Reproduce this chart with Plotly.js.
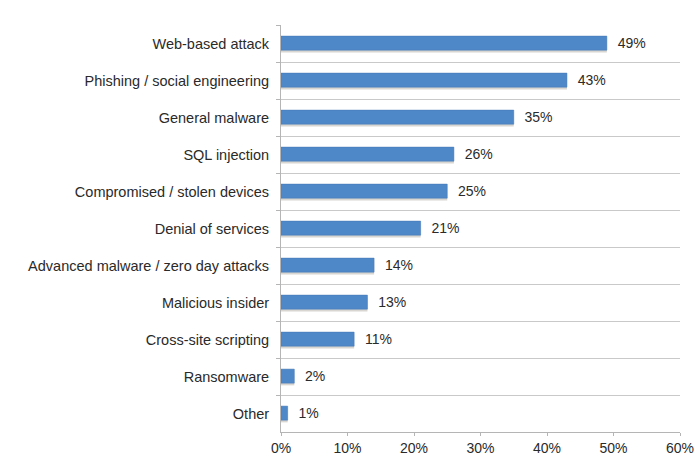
<!DOCTYPE html>
<html>
<head>
<meta charset="utf-8">
<script src="https://cdn.plot.ly/plotly-3.0.1.min.js"></script>
<style>html,body{margin:0;padding:0;background:#fff;}#chart{width:695px;height:468px;}</style>
</head>
<body>
<div id="chart"></div>
<script>
const categories = [
  "Web-based attack",
  "Phishing / social engineering",
  "General malware",
  "SQL injection",
  "Compromised / stolen devices",
  "Denial of services",
  "Advanced malware / zero day attacks",
  "Malicious insider",
  "Cross-site scripting",
  "Ransomware",
  "Other"
];
const values = [49, 43, 35, 26, 25, 21, 14, 13, 11, 2, 1];
const xTickVals = [0, 10, 20, 30, 40, 50, 60];

const shadow = {
  type: 'bar', orientation: 'h',
  x: values, y: categories,
  width: 0.4, offset: -0.16,
  marker: {color: '#d9d6d2', line: {width: 0}},
  hoverinfo: 'skip', showlegend: false
};
const bars = {
  type: 'bar', orientation: 'h',
  x: values, y: categories,
  width: 0.38, offset: -0.2,
  marker: {color: '#4f88c8', line: {color: '#4679b5', width: 0.5}},
  text: values.map(v => v + '%'),
  texttemplate: '  %{text}',
  textposition: 'outside',
  constraintext: 'none',
  cliponaxis: false,
  textfont: {family: 'Liberation Sans, Arial, sans-serif', size: 14, color: '#2a2a2a'},
  showlegend: false
};

const layout = {
  width: 695, height: 468,
  margin: {l: 281, r: 15, t: 25, b: 36},
  paper_bgcolor: '#fff', plot_bgcolor: '#fff',
  barmode: 'overlay',
  font: {family: 'Liberation Sans, Arial, sans-serif', size: 14, color: '#2a2a2a'},
  xaxis: {
    range: [0, 60], tickvals: xTickVals, ticktext: xTickVals.map(v => v + '%'),
    showgrid: false, zeroline: false,
    showline: true, linecolor: '#b5b5b5', linewidth: 1,
    ticks: 'outside', ticklen: 3, tickcolor: '#b5b5b5',
    tickfont: {size: 14, color: '#2a2a2a'}
  },
  yaxis: {
    type: 'category', autorange: 'reversed',
    tickson: 'boundaries',
    showgrid: true, gridcolor: '#c9c9c9', gridwidth: 1,
    showline: true, linecolor: '#b5b5b5', linewidth: 1,
    ticks: 'outside', ticklen: 4, tickcolor: '#b5b5b5',
    ticklabelstandoff: 8,
    tickfont: {size: 14.5, color: '#2a2a2a'},
    zeroline: false
  }
};

Plotly.newPlot('chart', [shadow, bars], layout, {displayModeBar: false, staticPlot: true});
</script>
</body>
</html>
